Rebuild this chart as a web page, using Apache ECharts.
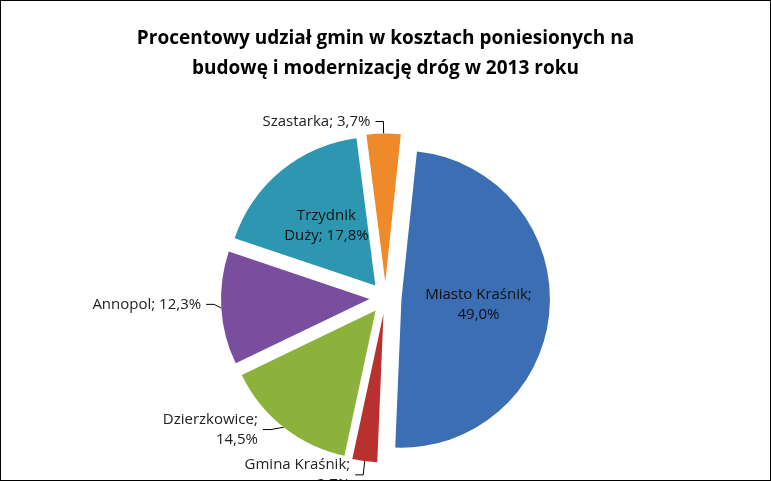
<!DOCTYPE html>
<html>
<head>
<meta charset="utf-8">
<script src="https://cdn.jsdelivr.net/npm/echarts@6/dist/echarts.min.js"></script>
<style>
  html, body { margin: 0; padding: 0; background: #fff; }
  #main { width: 769px; height: 479px; border: 1px solid #000; }
</style>
</head>
<body>
<div id="main"></div>
<script>
// dane z wykresu
const gminy = ['Miasto Kraśnik', 'Gmina Kraśnik', 'Dzierzkowice', 'Annopol', 'Trzydnik Duży', 'Szastarka'];
const udzialy = [49.0, 2.7, 14.5, 12.3, 17.8, 3.7];
const etykiety = ['Miasto Kraśnik;\n{v}', 'Gmina Kraśnik;\n{v}', 'Dzierzkowice;\n{v}', 'Annopol; {v}', 'Trzydnik\nDuży; {v}', 'Szastarka; {v}'];
const kolory = ['#3C6EB4', '#B8312F', '#8CB23C', '#7A4E9E', '#2D97B1', '#EE8A2A'];
const wewnatrz = ['Miasto Kraśnik', 'Trzydnik Duży'];

const fmt = v => v.toFixed(1).replace('.', ',') + '%';

const options = {
  title: {
    text: 'Procentowy udział gmin w kosztach poniesionych na\nbudowę i modernizację dróg w 2013 roku',
    left: 'center',
    top: 18,
    textStyle: { fontFamily: 'Open Sans', fontWeight: 'bold', fontSize: 19, lineHeight: 30, color: '#000' }
  },
  series: [{
    type: 'pie',
    center: ['50%', '62%'],
    radius: '62%',
    startAngle: 84,
    selectedMode: 'multiple',
    selectedOffset: 16,
    label: {
      fontFamily: 'Open Sans',
      fontSize: 15,
      lineHeight: 20,
      color: '#222',
      formatter: p => etykiety[p.dataIndex].replace('{v}', fmt(p.value))
    },
    labelLine: { lineStyle: { color: '#000' }, length: 12, length2: 8 },
    data: gminy.map((g, i) => ({
      name: g,
      value: udzialy[i],
      selected: true,
      itemStyle: { color: kolory[i] },
      label: wewnatrz.includes(g) ? { position: 'inside', color: '#111', align: 'center' } : {}
    }))
  }]
};

const myChart = echarts.init(document.getElementById('main'));
myChart.setOption(options);
</script>
</body>
</html>
